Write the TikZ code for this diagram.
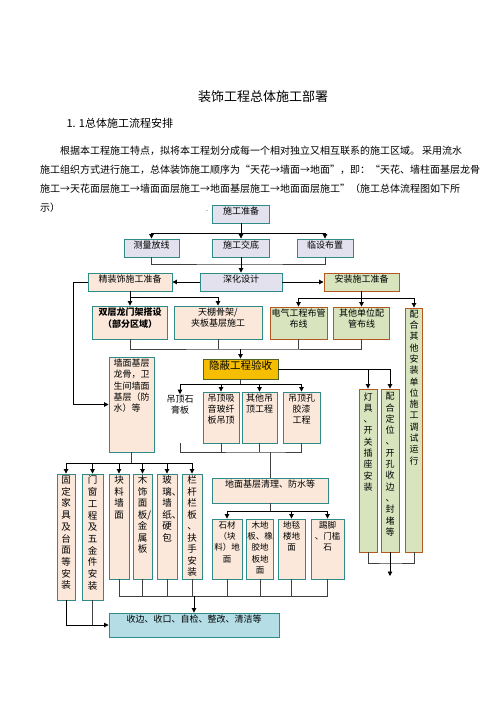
\documentclass[tikz,border=0pt]{standalone}
\usepackage{fontspec}
\setmainfont{Noto Sans CJK SC}
\usetikzlibrary{arrows.meta}
\definecolor{tealc}{HTML}{2E8B87}
\definecolor{lavc}{HTML}{E3E1EE}
\definecolor{peachc}{HTML}{FBE8DA}
\definecolor{greenc}{HTML}{D7E4BD}
\definecolor{brownc}{HTML}{B5581E}
\definecolor{goldc}{HTML}{F5BE00}
\definecolor{olivec}{HTML}{4F6228}
\definecolor{bluec}{HTML}{B4DDE6}
\XeTeXlinebreaklocale "zh"
\XeTeXlinebreakskip=0pt plus 3pt minus 1pt
\newcommand{\cell}[3]{\parbox[c][#2][t]{#1}{\centering\vspace*{2pt}#3}}
\tikzset{
  box/.style={draw, line width=0.9pt, inner sep=0pt, font=\fontsize{9}{11.3}\selectfont},
  prep/.style={box, draw=tealc, fill=lavc},
  deco/.style={box, draw=tealc, fill=peachc},
  inst/.style={box, draw=brownc, fill=greenc},
  check/.style={box, draw=olivec, fill=goldc, font=\fontsize{10.5}{12}\selectfont},
  done/.style={box, draw=tealc, fill=bluec},
  flow/.style={-{Triangle[length=4.5pt,width=4.5pt]}, line width=0.9pt, draw=black},
  link/.style={line width=0.9pt, draw=black!75}
}
\begin{document}
\begin{tikzpicture}[x=1pt, y=-1pt]
    \fill[white] (0,0) rectangle (496,702);
    \useasboundingbox (0,0) rectangle (496,702);
    \node[font=\fontsize{13}{15}\selectfont] (title) at (263,97) {装饰工程总体施工部署};
    \node[anchor=west, font=\fontsize{11}{13}\selectfont] (subtitle) at (63,123) {1. 1总体施工流程安排};
    \node[anchor=west, inner sep=0pt, font=\fontsize{10}{12}\selectfont] (line1) at (60,151) {\hbox to 402pt{根据本工程施工特点，拟将本工程划分成每一个相对独立又相互联系的施工区域。 采用流水}};
    \node[anchor=west, inner sep=0pt, font=\fontsize{10}{12}\selectfont] (line2) at (40,170) {\hbox to 422pt{施工组织方式进行施工，总体装饰施工顺序为“天花→墙面→地面”，即：“天花、墙柱面基层龙骨}};
    \node[anchor=west, inner sep=0pt, font=\fontsize{10}{12}\selectfont] (line3) at (40,189) {\hbox to 422pt{施工→天花面层施工→墙面面层施工→地面基层施工→地面面层施工”（施工总体流程图如下所}};
    \node[anchor=west, inner sep=0pt, font=\fontsize{10}{12}\selectfont] (line4) at (40,208) {示）};
    \node[inner sep=0pt, font=\fontsize{7}{7}\selectfont] (dot) at (207,211) {.};

    \node[prep] (zhunbei) at (241,214) {\cell{57pt}{18pt}{施工准备}};
    \node[prep] (celiang) at (151.5,248) {\cell{55pt}{18pt}{测量放线}};
    \node[prep] (jiaodi) at (241,248) {\cell{57pt}{18pt}{施工交底}};
    \node[prep] (linshe) at (325,248) {\cell{56pt}{18pt}{临设布置}};
    \node[prep] (shenhua) at (241,282) {\cell{82pt}{18pt}{深化设计}};
    \node[deco] (jingzhuang) at (130,282) {\cell{84pt}{18pt}{精装饰施工准备}};
    \node[inst] (anzhuang) at (361.5,282) {\cell{75pt}{18pt}{安装施工准备}};

    \node[deco] (longmen) at (130,322.5) {\cell{75pt}{33pt}{\bfseries 双层龙门架搭设\\（部分区域）}};
    \node[deco] (tianpeng) at (218,322.5) {\cell{88pt}{33pt}{天棚骨架/\\夹板基层施工}};
    \node[inst] (dianqi) at (298.5,323) {\cell{57pt}{32pt}{电气工程布管\\布线}};
    \node[inst] (qita) at (361.5,323) {\cell{56pt}{32pt}{其他单位配\\管布线}};
    \node[inst] (peihe) at (414,430) {\cell{17pt}{244pt}{配\\合\\其\\他\\安\\装\\单\\位\\施\\工\\调\\试\\运\\行}};

    \node[check] (yinbi) at (240.5,369) {\cell{75pt}{20pt}{隐蔽工程验收}};
    \node[inst] (dengju) at (368,470.5) {\cell{18pt}{163pt}{\vspace*{1.5pt}灯\\具\\、\\开\\关\\插\\座\\安\\装}};
    \node[inst] (dingwei) at (390,470.5) {\cell{18pt}{163pt}{\vspace*{1.5pt}配\\合\\定\\位\\、\\开\\孔\\收\\边\\、\\封\\堵\\等}};

    \node[deco] (qiangmian) at (131.5,404.5) {\cell{45pt}{95pt}{墙面基层\\龙骨，卫\\生间墙面\\基层（防\\水）等\hphantom{一}}};
    \node[inner sep=1pt, align=center, font=\fontsize{9}{11.3}\selectfont] (shigao) at (180,405) {吊顶石\\膏板};
    \node[deco] (xiyin) at (221,417.5) {\cell{36pt}{51pt}{吊顶吸\\音玻纤\\板吊顶}};
    \node[deco] (qitadd) at (259.5,417.5) {\cell{35pt}{51pt}{其他吊\\顶工程}};
    \node[deco] (kongjiao) at (301.5,417.5) {\cell{37pt}{51pt}{吊顶孔\\胶漆\\工程}};

    \node[deco] (dimian) at (270,490.5) {\cell{116pt}{25pt}{地面基层清理、防水等}};
    \node[deco, font=\fontsize{8.5}{11.3}\selectfont] (shicai) at (227,549) {\cell{30pt}{60pt}{石材\\（块\\料）地\\面}};
    \node[deco, font=\fontsize{8.5}{11.3}\selectfont] (mudiban) at (260,549) {\cell{27pt}{60pt}{木地\\板、橡\\胶地\\板地\\面}};
    \node[deco, font=\fontsize{8.5}{11.3}\selectfont] (ditan) at (291.5,549) {\cell{27pt}{60pt}{地毯\\楼地\\面}};
    \node[deco, font=\fontsize{8.5}{11.3}\selectfont] (tijiao) at (327.5,549) {\cell{33pt}{60pt}{踢脚\\、门槛\\石}};

    \node[deco, font=\fontsize{9.5}{11.7}\selectfont] (gudingjj) at (66,537) {\cell{18pt}{126pt}{固\\定\\家\\具\\及\\台\\面\\等\\安\\装}};
    \node[deco, font=\fontsize{9.5}{11.7}\selectfont] (menchuang) at (92.5,537) {\cell{21pt}{126pt}{门\\窗\\工\\程\\及\\五\\金\\件\\安\\装}};
    \node[deco, font=\fontsize{9.5}{11.5}\selectfont] (kuailiao) at (119,526.5) {\cell{20pt}{105pt}{块\\料\\墙\\面}};
    \node[deco, font=\fontsize{9.5}{11.5}\selectfont] (mushi) at (142.5,526.5) {\cell{19pt}{105pt}{木\\饰\\面\\板\rlap{/}\\金\\属\\板}};
    \node[deco, font=\fontsize{9.5}{11.5}\selectfont] (boli) at (167,526.5) {\cell{20pt}{105pt}{玻\\璃\rlap{、}\\墙\\纸\rlap{、}\\硬\\包}};
    \node[deco, font=\fontsize{9.5}{11.5}\selectfont] (langan) at (192,526.5) {\cell{20pt}{105pt}{栏\\杆\\栏\\板\\、\\扶\\手\\安\\装}};
    \node[done] (shoubian) at (194,625) {\cell{170pt}{24pt}{收边、收口、自检、整改、清洁等}};

    \coordinate (b1) at (241,233);
    \coordinate (b2) at (241,264);
    \coordinate (b3) at (130,297);
    \coordinate (b4) at (361.5,298);
    \coordinate (b5) at (240.5,349);
    \coordinate (b7) at (240.5,384);
    \coordinate (b8) at (270,452);
    \coordinate (b9) at (131.5,463);
    \coordinate (b10) at (270,511);
    \coordinate (b11) at (194,596);
    \coordinate (b12) at (390,563);
    \coordinate (shigaoEnd) at (180,443);
    \coordinate (tail) at (390,576);

    \draw[flow] (zhunbei.south) -- (jiaodi.north);
    \draw[flow] (b1) -| (celiang.north);
    \draw[flow] (b1) -| (linshe.north);
    \draw[link] (celiang.south) |- (b2) -| (linshe.south);
    \draw[flow] (jiaodi.south) -- (shenhua.north);
    \draw[flow] (shenhua.west) -- (jingzhuang.east);
    \draw[flow] (shenhua.east) -- (anzhuang.west);
    \draw[flow] (jingzhuang.west) -- ++(-14,0) |- (qiangmian.west);

    \draw[flow] (jingzhuang.south) -- (longmen.north);
    \draw[flow] (b3) -| (tianpeng.north);
    \draw[flow] (anzhuang.south) -- (qita.north);
    \draw[flow] (b4) -| (dianqi.north);
    \draw[flow] (b4) -| (peihe.north);

    \draw[link] (longmen.south) |- (b5) -| (qita.south);
    \draw[link] (tianpeng.south) -- (tianpeng.south |- b5);
    \draw[link] (dianqi.south) -- (dianqi.south |- b5);
    \draw[flow] (b5) -- (yinbi.north);

    \draw[flow] (yinbi.east) -| (dengju.north);
    \draw[flow] (yinbi.east) -| (dingwei.north);
    \draw[link] (yinbi.south) -- (b7);
    \foreach \n in {shigao,xiyin,qitadd,kongjiao}
        \draw[flow] (b7) -| (\n.north);

    \draw[link] (shigaoEnd) |- (b8) -| (kongjiao.south);
    \draw[link] (xiyin.south) -- (xiyin.south |- b8);
    \draw[link] (qitadd.south) -- (qitadd.south |- b8);
    \draw[link] (b8) -- (dimian.north);

    \draw[link] (qiangmian.south) -- (b9);
    \foreach \n in {gudingjj,menchuang,kuailiao,mushi,boli,langan}
        \draw[flow] (b9) -| (\n.north);

    \draw[link] (dimian.south) -- (b10);
    \foreach \n in {shicai,ditan,tijiao}
        \draw[flow] (b10) -| (\n.north);

    \draw[link] (kuailiao.south) |- (tijiao.south |- b11) -- (tijiao.south);
    \foreach \n in {mushi,boli,langan,shicai,mudiban,ditan}
        \draw[link] (\n.south) -- (\n.south |- b11);
    \draw[flow] (b11) -- (shoubian.north);
    \draw[flow] (gudingjj.south) |- (shoubian.west);
    \draw[link] (menchuang.south) -- (menchuang.south |- shoubian.west);

    \draw[link] (dengju.south) |- (b12) -| (peihe.south);
    \draw[flow] (dingwei.south) -- (tail);
\end{tikzpicture}
\end{document}
